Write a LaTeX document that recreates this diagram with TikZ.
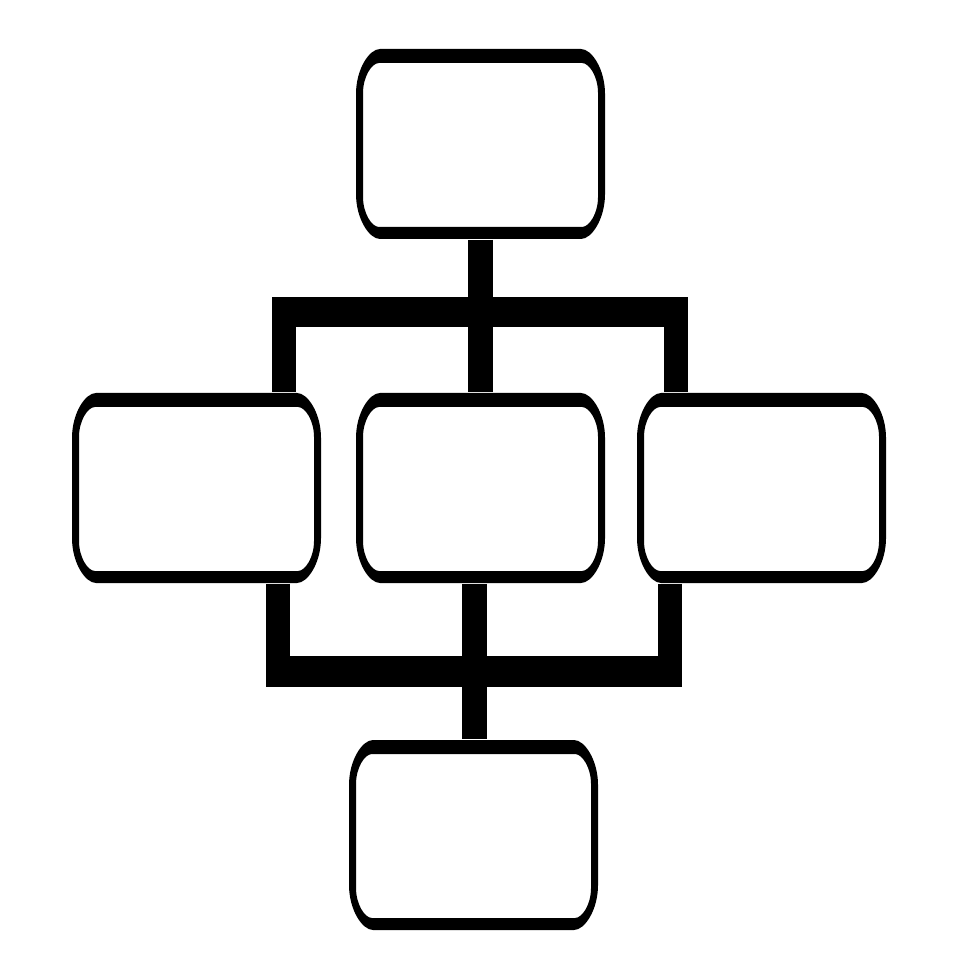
\documentclass[tikz,border=0pt]{standalone}
\begin{document}
\begin{tikzpicture}[x=0.01cm,y=-0.01cm,
  boxnode/.style={rectangle,draw=none,inner sep=0pt,minimum width=2.49cm,minimum height=1.9cm},
  stem/.style={line width=0.25cm,line cap=butt},
  leg/.style={line width=0.24cm,line cap=butt},
  bar/.style={line width=0.30cm,line cap=butt},
  pics/flowbox/.style={code={
    \fill[black,even odd rule]
      (-124.5,-50) .. controls (-124.5,-74.84) and (-111.25,-95) .. (-100.5,-95)
      -- (100.5,-95) .. controls (111.25,-95) and (124.5,-74.84) .. (124.5,-50)
      -- (124.5,50) .. controls (124.5,74.84) and (111.25,95) .. (100.5,95)
      -- (-100.5,95) .. controls (-111.25,95) and (-124.5,74.84) .. (-124.5,50)
      -- cycle
      (-117.5,-51) .. controls (-117.5,-67.56) and (-108.67,-81) .. (-101.5,-81)
      -- (101.5,-81) .. controls (108.67,-81) and (117.5,-67.56) .. (117.5,-51)
      -- (117.5,53) .. controls (117.5,69.56) and (108.67,83) .. (101.5,83)
      -- (-101.5,83) .. controls (-108.67,83) and (-117.5,69.56) .. (-117.5,53)
      -- cycle;
  }}]
\useasboundingbox[fill=white] (0,0) rectangle (980,980);

% nodes
\node[boxnode] (top)    at (480.5,144) {};
\node[boxnode] (left)   at (196.5,488) {};
\node[boxnode] (center) at (480.5,488) {};
\node[boxnode] (right)  at (761.5,488) {};
\node[boxnode] (bottom) at (473.5,835) {};

% bracket coordinates
\coordinate (tbL) at (284,312);
\coordinate (tbR) at (675.5,312);
\coordinate (tbM) at (480.5,312);
\coordinate (bbL) at (278,671.5);
\coordinate (bbR) at (669.5,671.5);
\coordinate (bbM) at (474.5,671.5);

% upper connectors
\draw[stem] (top.south) -- ([yshift=0.15cm]tbM);
\draw[bar] ([xshift=-0.12cm]tbL) -- ([xshift=0.125cm]tbR);
\draw[leg] (tbL) -- (tbL |- left.north);
\draw[leg] (tbR) -- (tbR |- right.north);
\draw[stem] (tbM) -- (center.south |- center.north);

% lower connectors
\draw[leg] (bbL |- left.south) -- (bbL);
\draw[leg] (bbR |- right.south) -- (bbR);
\draw[bar] ([xshift=-0.12cm]bbL) -- ([xshift=0.125cm]bbR);
\draw[stem] (bbM |- center.south) -- (bbM |- bottom.north);

% boxes
\foreach \n in {top,left,center,right,bottom}
  \pic at (\n) {flowbox};
\end{tikzpicture}
\end{document}
